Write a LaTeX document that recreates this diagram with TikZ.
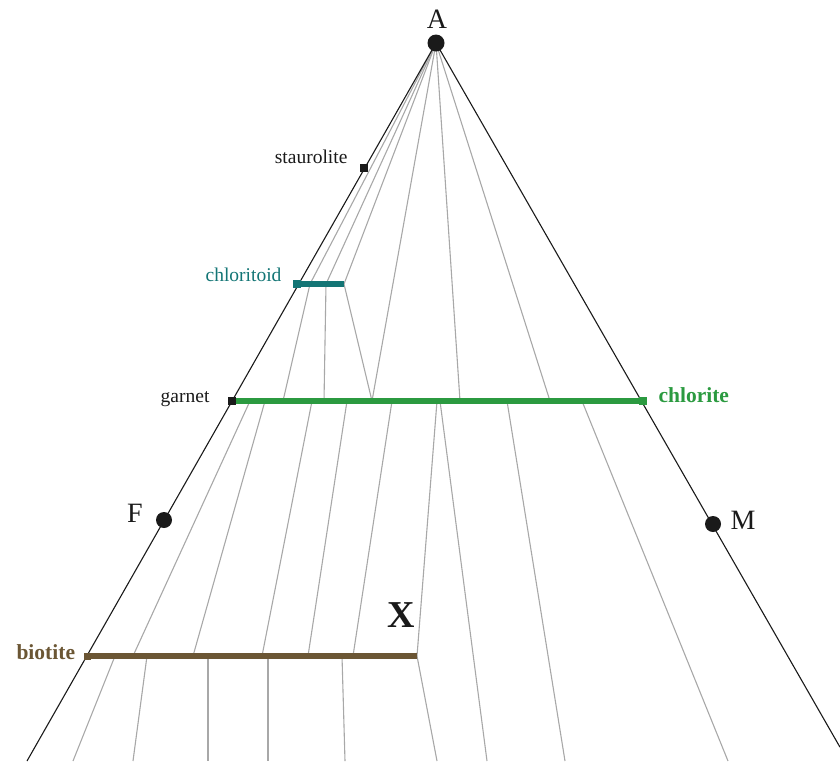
\documentclass[tikz,border=0pt]{standalone}
\usepackage{fontspec}
\setmainfont{Liberation Serif}
\begin{document}
\begin{tikzpicture}[x=1pt,y=-1pt,
  edgeline/.style={draw=edgeink,line width=1.1pt},
  tieline/.style={draw=tiegray,line width=1.1pt},
  barline/.style={line width=6pt},
  sqmark/.style={rectangle,inner sep=0pt,minimum size=8.5pt},
  endlabel/.style={font=\fontsize{28}{32}\selectfont,text=edgeink},
  minlabel/.style={font=\fontsize{19.5}{23}\selectfont}]
\definecolor{edgeink}{HTML}{1A1A1A}\definecolor{tiegray}{HTML}{A8A8A8}
\definecolor{ctd}{HTML}{137575}\definecolor{chl}{HTML}{2B9A40}
\definecolor{bio}{HTML}{6B5634}
\useasboundingbox (0,0) rectangle (840,761);
% corners and phases
\coordinate (A) at (436,43);
\coordinate (Lb) at (27,761);
\coordinate (Rb) at (840,747.2);
\coordinate (st) at (364,168);
\coordinate (ctdL) at (297,284);
\coordinate (ctdR) at (344,284);
\coordinate (grt) at (232,401);
\coordinate (chlR) at (643,401);
\coordinate (bioL) at (87,656);
\coordinate (X) at (417,656);
\coordinate (F) at (164,520);
\coordinate (M) at (713,524);
% tie lines from A
\draw[tieline] (A) -- (310,284);
\draw[tieline] (A) -- (326,284);
\draw[tieline] (A) -- (ctdR);
\draw[tieline] (A) -- (372,401);
\draw[tieline] (A) -- (460,401);
\draw[tieline] (A) -- (550,401);
% chloritoid to garnet-chlorite
\draw[tieline] (310,284) -- (283,401);
\draw[tieline] (326,284) -- (324,401);
\draw[tieline] (ctdR) -- (372,401);
% garnet-chlorite to biotite
\draw[tieline] (250,401) -- (133,656);
\draw[tieline] (265,401) -- (193,656);
\draw[tieline] (312,401) -- (262,656);
\draw[tieline] (347,401) -- (308,656);
\draw[tieline] (392,401) -- (353,656);
\draw[tieline] (437,401) -- (X);
\draw[tieline] (440,401) -- (487,761);
\draw[tieline] (507,401) -- (565,761);
\draw[tieline] (582,401) -- (728,761);
% below biotite
\draw[tieline] (115,656) -- (73,761);
\draw[tieline] (147,656) -- (133,761);
\draw[tieline] (208,656) -- (208,761);
\draw[tieline] (268,656) -- (268,761);
\draw[tieline] (342,656) -- (345,761);
\draw[tieline] (X) -- (437,761);
% triangle sides
\draw[edgeline] (Lb) -- (A) -- (Rb);
% solid solutions
\draw[barline,ctd] (ctdL) -- (ctdR);
\draw[barline,chl] (grt) -- (chlR);
\draw[barline,bio] (bioL) -- (X);
\node[sqmark,fill=edgeink] (stm) at (st) {};
\node[sqmark,fill=ctd] (ctdm) at (ctdL) {};
\node[sqmark,fill=edgeink] (grtm) at (grt) {};
\node[sqmark,fill=chl] (chlm) at (chlR) {};
\node[sqmark,fill=bio,minimum size=7pt] (biom) at (bioL) {};
\fill[edgeink] (A) circle[radius=8.5];
\fill[edgeink] (F) circle[radius=8];
\fill[edgeink] (M) circle[radius=8];
% labels
\node[endlabel,anchor=base] (Alab) at (437,28) {A};
\node[endlabel,anchor=base] (Flab) at (135,522) {F};
\node[endlabel,anchor=base] (Mlab) at (743,529) {M};
\node[minlabel,anchor=base east,text=edgeink] (stlab) at (351,163) {staurolite};
\node[minlabel,anchor=base east,text=ctd] (ctdlab) at (285,281) {chloritoid};
\node[minlabel,anchor=base east,text=edgeink] (grtlab) at (213,402) {garnet};
\node[anchor=base west,font=\fontsize{21.5}{25}\selectfont\bfseries,text=chl] (chllab) at (655,402) {chlorite};
\node[anchor=base west,font=\fontsize{21.5}{25}\selectfont\bfseries,text=bio] (biolab) at (13,659) {biotite};
\node[anchor=base,font=\fontsize{38}{42}\selectfont\bfseries,text=edgeink] (Xlab) at (401,627) {X};
\end{tikzpicture}
\end{document}
